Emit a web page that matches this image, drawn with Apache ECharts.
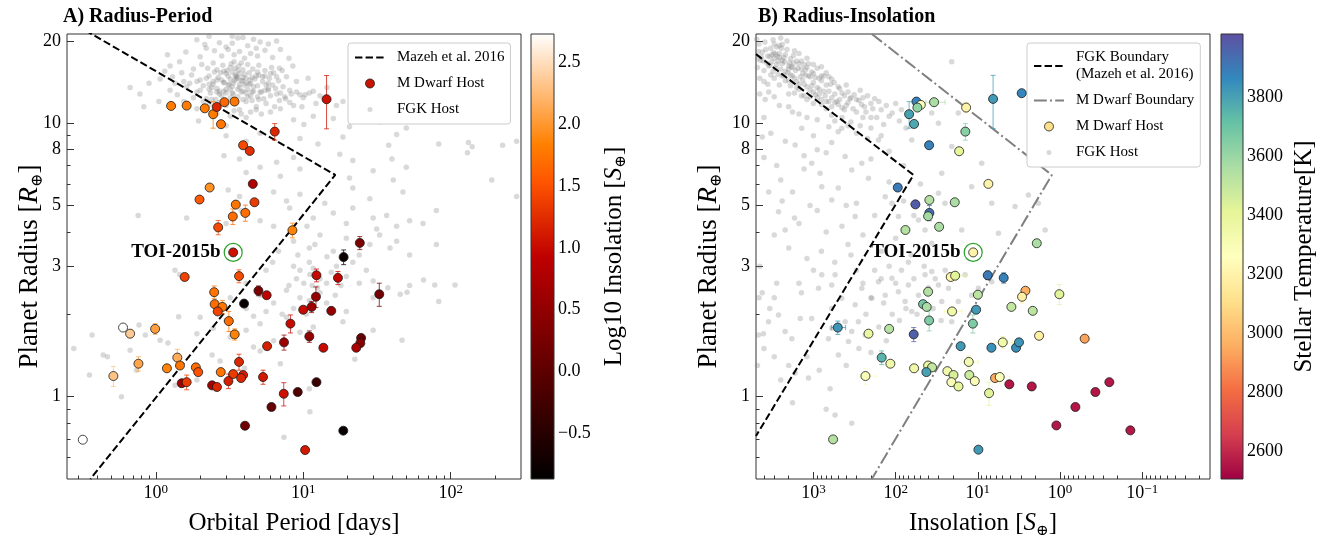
<!DOCTYPE html>
<html><head><meta charset="utf-8">
<script src="https://cdn.jsdelivr.net/npm/echarts/dist/echarts.min.js"></script>
<style>html,body{margin:0;padding:0;background:#fff}#c{width:1335px;height:542px}</style>
</head><body><div id="c"></div>
<script>
// ---------------- DATA ----------------
// Panel A: M dwarf host planets (period [d], radius [R_earth], log10 insolation, radius error)
const mdA_period = [1.27,1.62,2.15,2.45,2.59,2.92,3.42,2.77,14.4,6.41,
 3.91,4.34,4.55,2.32,1.98,3.49,4.67,3.33,4.05,2.65,
 8.45,3.35,24.2,18.8,1.57,3.67,12.3,17.2,2.49,4.97,
 5.65,3.97,12.2,32.8,2.51,2.83,2.63,10.0,11.4,15.5,
 3.13,8.19,0.99,0.60,0.67,3.43,11.0,24.7,24.4,22.9,
 5.69,7.41,13.7,1.40,0.763,1.19,1.46,1.87,1.94,2.76,
 0.516,3.67,3.35,3.91,3.79,3.11,5.34,1.50,1.62,2.41,
 2.60,12.3,7.38,9.18,6.09,4.03,18.7,10.3,0.32];
const mdA_radius = [11.57,11.6,11.34,10.79,11.47,11.94,12.0,9.92,12.24,9.32,
 8.31,7.92,6.0,5.82,5.26,5.04,5.14,4.56,4.70,4.16,
 4.06,3.37,3.65,3.24,2.74,2.76,2.78,2.72,2.41,2.44,
 2.35,2.19,2.32,2.37,2.18,2.13,2.05,2.08,2.13,2.06,
 1.89,1.85,1.77,1.79,1.70,1.69,1.66,1.64,1.57,1.51,
 1.53,1.58,1.51,1.39,1.32,1.27,1.30,1.28,1.23,1.23,
 1.19,1.34,1.21,1.20,1.17,1.14,1.18,1.12,1.13,1.10,
 1.085,1.13,1.025,1.04,0.917,0.783,0.751,0.638,0.696];
const mdA_logInsol = [1.8,1.8,1.8,1.8,1.2,1.65,1.75,1.75,1.05,1.2,
 1.45,1.25,0.8,1.95,1.55,1.75,1.35,1.7,1.7,1.45,
 1.85,1.06,0.3,-0.75,1.4,1.45,1.0,0.95,1.75,0.3,
 0.95,-0.8,0.55,0.2,1.7,1.75,1.4,1.0,0.6,0.5,
 1.7,1.0,2.05,2.73,2.35,1.85,0.5,0.1,0.45,0.75,
 1.15,0.6,1.0,2.15,2.1,1.85,1.75,1.7,1.5,1.75,
 2.3,1.2,1.35,1.15,1.2,1.15,1.1,0.65,1.35,0.7,
 1.2,-0.3,1.05,-0.1,0.1,0.2,-0.8,1.1,2.73];
const mdA_radErr = [0,0,0,1.2,0,0,0,0,2.7,0.65,
 0,0,0,0,0,0,0,0.3,0.32,0.25,
 0.25,0.1,0.2,0.2,0,0.15,0.15,0.15,0.13,0.1,
 0,0,0.2,0.23,0,0.12,0,0,0.1,0,
 0.16,0.14,0.08,0,0.06,0.08,0.08,0,0,0,
 0,0.1,0,0.1,0.08,0,0,0,0,0,
 0.1,0.09,0,0,0,0.07,0.07,0,0.07,0,
 0,0,0.1,0,0,0,0,0,0];

// Panel B: M dwarf host planets (insolation [S_earth], radius, Teff [K], errors)
const mdB_insol = [55.9,49.5,54.4,68.6,59.7,34.1,13.9,6.53,2.93,14.2,
 39.2,16.9,7.45,94.3,38.9,57.5,19.1,38.9,40.3,76.1,
 29.6,11.4,1.92,21.4,18.9,7.59,4.85,40.3,10.0,2.64,
 2.90,1.02,46.4,41.9,20.6,10.5,3.91,2.15,39.2,11.5,
 506,214,120,60.3,1.80,0.502,16.2,6.84,4.98,3.43,
 3.16,148,116,59.7,40.3,36.1,42.3,12.9,233,23.5,
 19.8,12.7,10.9,21.0,17.2,6.18,5.42,4.14,2.21,7.31,
 0.372,0.2515,0.651,1.11,0.1396,577,9.85];
const mdB_radius = [12.0,11.67,11.41,10.79,9.94,11.94,11.41,12.27,12.88,9.32,
 8.31,7.90,6.0,5.82,5.24,5.05,5.14,4.70,4.57,4.07,
 4.18,3.37,3.64,2.74,2.77,2.78,2.72,2.42,2.36,2.44,
 2.32,2.37,2.18,2.13,2.05,2.08,2.13,2.06,1.90,1.85,
 1.79,1.70,1.77,1.69,1.67,1.63,1.53,1.51,1.58,1.51,
 1.58,1.39,1.32,1.27,1.30,1.28,1.23,1.34,1.19,1.24,
 1.20,1.20,1.14,1.13,1.09,1.17,1.18,1.11,1.09,1.03,
 1.04,1.13,0.917,0.785,0.753,0.698,0.64];
const mdB_teff = [3880,3250,3620,3800,3780,3560,3200,3820,3870,3640,
 3880,3400,3200,3900,3540,3980,3560,3930,3580,3540,
 3560,3200,3560,3200,3420,3900,3880,3540,3520,2960,
 3180,3420,3680,3560,3350,3820,3500,3520,3660,3660,
 3830,3380,3530,3970,3180,2930,3820,3840,3340,3850,
 3830,3750,3350,3350,3380,3500,3800,3330,3300,3330,
 3450,3480,3300,3300,3400,2950,3280,2560,2560,3420,
 2560,2560,2560,2560,2560,3540,3820];
const mdB_radErr = [0,0,0,1.2,0,0,0.5,2.7,0,0.65,
 0,0,0,0,0,0,0,0.3,0,0,
 0,0.1,0.1,0,0.1,0.1,0.12,0,0,0,
 0.12,0.2,0,0,0,0,0,0,0.16,0.14,
 0.1,0,0,0.1,0,0,0,0,0.08,0,
 0,0.08,0,0,0,0,0,0.07,0.08,0,
 0,0,0,0,0,0,0.06,0,0,0.1,
 0,0,0,0,0,0,0];
const mdB_insolErr = [0,0,0,0,0,9,0,0,0,0,
 0,0,0,0,0,0,0,0,0,0,
 0,0,0,0,5,0,0,0,0,0,
 0,0,0,0,5,0,0,0,0,0,
 100,0,0,0,0,0,0,0,1.2,0,
 0,0,0,0,0,0,0,3,60,0,
 0,0,0,0,0,0,1.3,0,0,0,
 0,0,0,0,0,0,0];

// TOI-2015b
const toiA = [3.35, 3.37];
const toiB = [11.4, 3.37];

// Boundaries
const mazehA = [[0.25,23.9],[16.5,6.47],[0.36,0.5]];
const fgkBoundB = [[5000,17.9],[60.7,6.47],[5000,0.718]];
const mdBoundB = [[195,21.2],[1.26,6.47],[195,0.5]];

// FGK hosts, panel A (period, radius)
const fgkA = [
 [1.9,20.2],[2.3,20.8],[3.3,19.6],[3.6,20.5],[4.2,19.2],[5.1,19.8],[6.6,20.0],[3.0,19.0],
 [1.6,18.2],[2.0,17.5],[2.5,18.4],[2.8,17.6],[3.1,18.6],[3.4,17.8],[3.7,18.3],[4.0,17.3],[4.4,18.0],[4.9,17.6],[5.5,18.5],[6.2,17.4],[2.2,18.8],
 [1.25,16.2],[1.45,16.8],[1.8,15.8],[2.05,16.4],[2.25,15.9],[2.45,16.6],[2.6,15.7],[2.85,16.3],[3.05,15.6],[3.25,16.5],[3.45,15.9],[3.65,16.2],[3.9,15.7],[4.2,16.4],[4.55,15.8],[5.0,16.3],[5.5,15.6],[6.1,16.0],[6.9,15.9],[8.5,16.2],
 [1.07,14.5],[1.3,14.8],[1.55,14.2],[1.75,15.0],[2.0,14.4],[2.3,14.9],[2.45,14.2],[2.65,14.7],[2.9,14.1],[3.0,15.2],[3.2,14.5],[3.35,14.0],[3.55,14.8],[3.8,14.3],[4.0,15.1],[4.35,14.4],[4.8,14.9],[5.3,14.2],[5.9,14.6],[6.8,14.3],[7.7,14.8],[9.0,14.2],[2.75,15.3],[3.45,15.0],
 [0.67,13.5],[0.78,12.8],[1.25,13.2],[1.4,12.7],[1.62,13.6],[1.9,13.0],[2.1,13.7],[2.35,12.9],[2.6,13.4],[2.8,12.6],[3.0,13.3],[3.35,12.8],[3.7,13.5],[4.1,12.9],[4.6,13.6],[5.1,13.0],[5.8,13.4],[6.6,12.8],[8.1,13.2],[9.5,12.7],[10.3,12.7],[11.7,13.1],[13,12.6],[3.15,13.9],[2.45,13.9],
 [0.83,11.5],[1.9,11.3],[3.0,11.6],[3.7,11.2],[4.1,12.0],[4.8,11.5],[5.6,11.8],[7.0,11.3],[8.1,11.9],[8.6,11.6],[16.8,11.6],[18.6,12.0],[21,11.2],[2.7,11.9],[4.4,11.0],
 [1.95,10.2],[3.0,9.8],[4.1,10.5],[8.6,10.3],[10.1,9.9],[11.7,10.6],[16,10.4],[20.6,9.7],[33,10.1],[50,9.6],[60,10.2],
 [3.3,15.4],[3.5,14.5],[3.6,15.6],[3.9,14.7],[3.2,16.0],[3.4,16.8],[3.8,16.6],[3.1,14.9],[2.9,15.5],[4.1,14.0],[3.7,13.9],[3.3,13.6],[2.6,14.4],[4.3,15.3],
 [2.3,13.9],[2.6,13.0],[2.9,14.1],[3.2,13.3],[3.5,14.9],[3.8,13.0],[4.1,14.6],[4.6,13.1],[5.2,13.0],[2.1,12.0],[2.4,12.2],[2.7,13.1],[3.0,12.9],[3.3,12.9],[3.6,14.6],[3.9,14.3],[4.3,13.9],[4.7,14.5],[5.3,14.8],[5.8,13.2],
 [2.2,14.6],[2.5,15.4],[2.8,14.4],[3.1,13.8],[3.4,14.3],[3.7,15.2],[4.0,13.8],[4.4,14.0],[4.9,13.7],[5.5,14.9],[6.3,15.3],[7.2,15.6],[2.0,13.2],[2.4,13.5],[2.9,13.1],[3.2,12.4],[3.6,12.5],[4.2,13.3],[4.9,12.5],[5.4,12.3],
 [6.2,13.8],[7.3,13.6],[1.7,14.0],[1.5,15.3],[1.35,14.0],[1.15,15.5],[2.2,12.3],[2.55,12.2],[3.9,12.2],[4.5,12.1],[6.9,12.1],[7.6,12.3],[1.8,12.4],[1.55,12.0],[2.15,19.4],[2.7,19.7],[3.9,20.6],[4.6,20.3],[5.8,19.5],[4.8,18.8],
 [3.3,20.8],[5.0,15.0],[6.0,15.2],[5.6,13.8],[2.3,11.7],[3.4,11.1],[6.4,11.5],[9.8,11.5],[12.2,11.8],[14.5,13.5],[10.8,14.6],[8.0,17.3],[7.0,18.6],[1.05,12.0],[0.9,14.0],[1.2,17.8],
 [4.5,13.0],[5.0,12.2],[5.5,13.2],[6.0,12.6],[6.5,13.4],[7.0,12.9],[7.5,12.5],[8.3,12.8],[9.0,13.0],[10.0,12.4],[11.0,12.9],[4.8,11.2],[5.2,10.8],[6.0,11.0],[3.8,10.8],[3.2,10.6],[2.6,10.9],[4.4,12.6],[3.4,12.2],[2.9,12.0],
 [5.8,14.0],[6.6,14.8],[4.5,14.7],[4.9,15.4],[3.6,13.3],[3.9,13.1],[4.2,12.5],[2.3,13.3],[1.9,14.2],[2.7,12.8],
 [3.0,9.0],[4.1,8.6],[5.1,9.2],[9.5,8.8],[12.6,8.4],[18.6,8.9],[38,8.3],[43,9.1],[83,8.4],[132,8.5],[140,8.2],[225,8.3],[280,8.6],[2.9,7.6],[3.7,7.4],[4.35,7.8],[6.6,7.2],[8.6,7.5],[17.7,7.7],[21.7,7.3],[40,7.4],[130,7.8],[4.1,6.6],[5.1,6.9],[7.0,6.4],[9.5,6.8],[20.6,6.3],[29.8,6.7],[40.8,6.2],[190,6.2],[50,6.9],
 [3.1,5.7],[3.7,5.4],[4.6,5.9],[6.3,5.6],[7.7,5.2],[9.5,5.5],[21.7,5.8],[28.3,5.3],[47.5,5.6],[280,5.4],[0.76,4.6],[1.62,4.5],[3.0,4.3],[3.8,4.8],[5.1,4.4],[6.3,4.2],[8.1,4.9],[11.7,4.5],[16,4.7],[19.6,4.3],[21.7,4.9],[29.8,4.5],[31.5,4.1],[36.8,4.6],[43,4.2],[52.7,4.4],[65,4.3],[80,4.8],[14,5.1],[10.6,4.2],
 [8.6,3.7],[11,3.5],[13,3.9],[16,3.4],[19.6,3.8],[24,3.3],[28.3,3.6],[33,3.9],[38.8,3.5],[52.7,3.3],[80,3.6],[9.2,3.3],[14.5,3.25],[12,3.6],[6.8,3.4],[43,3.7],
 [1.35,2.9],[1.45,2.8],[4.1,2.6],[5.6,2.9],[8.6,3.0],[9.0,2.7],[9.5,2.9],[10.1,2.6],[11,3.1],[11.1,2.8],[11.5,2.55],[11.7,2.95],[13,2.7],[14.4,2.6],[16.8,3.0],[19.6,2.75],[21.7,3.1],[24,2.6],[26.8,2.9],[29.8,2.65],[37.5,2.5],[52.7,2.55],[65.5,2.67],[78,2.56],[107,2.56],[8.0,2.55],[6.2,3.1],[12.5,2.5],[15.5,2.85],[18,2.55],
 [3.2,2.3],[4.1,2.1],[5.1,2.35],[6.3,2.2],[7.7,2.45],[8.6,2.1],[9.5,2.3],[11,2.25],[11.7,2.1],[13,2.4],[14.4,2.2],[19.6,2.05],[29.8,2.3],[83,2.23],[45.5,2.37],[50.6,2.41],[7.2,2.0],[10.5,2.0],[16.5,2.35],[5.6,2.05],
 [0.77,1.83],[0.85,1.68],[1.07,1.61],[1.21,1.57],[1.43,1.96],[2.0,1.95],[2.45,1.78],[3.0,1.9],[4.1,1.75],[5.1,1.85],[7.7,1.95],[9.5,1.72],[11.7,1.8],[18.6,1.88],[29.8,1.75],[1.9,1.7],[4.6,1.97],
 [0.37,1.68],[0.278,1.5],[3.2,1.65],[4.6,1.52],[6.3,1.6],[46.8,1.61],
 [0.44,1.42],[0.47,1.40],[0.67,1.48],[2.41,1.42],[2.73,1.35],[5.1,1.47],[7.0,1.32],[22.4,1.37],
 [0.355,1.2],[0.74,1.25],[1.9,1.15],[3.3,1.22],[4.0,1.27],
 [0.585,1.0],[11,1.07],[1.35,1.1],
 [11.1,0.88],[7.4,0.71]
];

// FGK hosts, panel B (insolation, radius)
const fgkB = [
 [4600,19.5],[4200,18.2],[3900,19.8],[3600,17.6],[3300,18.8],[3000,17.3],[2800,19.0],[2600,18.0],[2300,17.4],[2100,18.6],[1900,17.2],[4400,17.0],[3700,16.6],[2500,20.5],[3100,20.2],
 [4800,16.0],[4000,15.6],[3500,16.2],[3100,15.5],[2800,16.4],[2500,15.8],[2250,16.8],[2050,15.3],[1850,16.1],[1650,15.6],[1500,16.5],[1350,15.2],[1200,16.0],[1050,15.4],[2700,15.1],[3300,15.0],[1900,15.0],[1600,16.9],[2400,16.5],
 [4000,14.2],[3000,14.6],[2600,13.8],[2200,14.3],[1900,13.7],[1700,14.6],[1500,13.9],[1350,14.4],[1200,13.6],[1100,14.8],[1000,14.1],[900,13.5],[800,14.3],[700,13.8],[600,14.5],[1800,14.9],[1250,15.0],[950,14.7],[750,14.9],[2400,14.9],
 [3500,13.0],[2000,12.8],[1500,13.3],[1300,12.6],[1100,13.2],[950,12.7],[850,13.3],[720,12.6],[650,13.1],[550,12.8],[480,13.4],[420,12.6],[380,13.0],[320,12.7],[1700,12.9],[270,13.2],
 [2600,11.6],[1000,11.8],[800,12.2],[600,11.5],[520,12.0],[450,11.4],[380,11.9],[330,11.3],[280,12.1],[240,11.5],[200,11.8],[180,12.3],[150,11.2],[700,11.3],
 [900,10.3],[600,10.7],[350,10.1],[270,9.8],[200,10.5],[140,9.9],[120,10.6],[90,10.2],[75,9.6],[4000,10.5],[1500,10.8],
 [2900,17.9],[2400,17.0],[2000,16.2],[1750,16.6],[3200,16.8],[2700,16.9],[2200,15.5],[1400,15.8],[1150,14.9],[3400,17.5],[2600,19.2],[1600,14.2],[2000,15.8],[1300,16.4],
 [4300,17.5],[3800,18.6],[3400,16.3],[3050,18.1],[2750,17.6],[2450,18.8],[2200,17.8],[1950,16.6],[1750,17.7],[1550,15.9],[1400,16.9],[1250,15.7],[1150,16.5],[1000,15.2],[900,15.9],[800,14.9],[700,15.3],[620,13.9],[560,14.1],[500,13.6],
 [450,12.9],[400,13.8],[360,12.3],[300,12.2],[260,11.7],[220,12.6],[4500,14.6],[3600,13.9],[2900,15.9],[2300,15.0],[2000,14.3],[1600,13.5],[1300,13.9],[1100,12.5],[900,12.4],[750,13.1],[600,12.4],[500,11.7],[420,11.2],[1800,16.0],
 [2600,17.4],[3200,17.8],[4100,16.9],[4700,18.3],[4900,20.3],[1450,14.8],[1050,13.7],[850,14.6],[650,14.8],[3000,19.5],[2400,19.4],[2100,20.0],[1700,18.4],[1500,18.0],[1200,17.3],[1000,16.4],[800,16.1],[4800,17.2],
 [800,11.7],[700,12.0],[550,11.9],[480,12.2],[400,11.6],[350,12.4],[300,11.0],[250,12.4],[230,11.0],[190,11.3],[170,10.5],[160,12.0],[130,11.6],[110,10.9],[100,11.8],[85,11.2],[70,10.6],[450,10.5],[550,10.2],[380,9.8],
 [250,10.5],[200,9.6],[1200,12.2],[1400,12.6],[1000,13.0],[850,12.8],[650,12.0],[2000,11.5],[3000,12.5],[4500,12.8],[1800,11.0],[1200,10.5],[500,9.3],[300,9.2],[150,9.0],[600,8.5],[900,8.0],[1300,7.6],[2200,8.6],[3300,9.2],
 [4200,8.9],[2800,7.0],[200,7.4],[120,7.9],[80,7.0],[50,6.0],[60,4.6],[400,5.0],[700,4.0],[1100,5.0],[1700,4.5],[2400,5.2],
 [3870,12.2],[2660,4.75],[2210,4.07],[1670,8.33],[1390,9.59],[1050,7.14],[830,6.56],[792,5.86],[599,5.24],[452,9.59],[412,7.55],[342,6.75],[311,4.56],[258,7.14],[214,6.29],[162,8.69],[134,5.39],[111,5.1],[92.5,4.56],[63.7,8.69],[52.8,4.43],[43.9,4.07],[36.4,3.64],[30.2,5.55],[25.1,5.1],[20.8,16.8],[15.7,4.07],[11.9,5.86],[8.98,7.14],[6.78,5.1],[5.62,3.96],[3.53,4.96],[2.43,5.47],[1.84,5.1],[1.52,4.07],[20.8,8.22],[27.5,6.56],[36.4,10.9],[30.2,10.0],[17.3,10.9],
 [2500,6.2],[1800,5.6],[1300,6.8],[900,4.8],[700,7.8],[500,5.8],[450,4.2],[380,3.6],[300,5.1],[250,3.9],[180,4.6],[150,3.4],[120,6.1],[100,3.8],[80,5.2],[65,3.3],[3000,3.9],[2000,3.5],[1200,3.2],[800,3.4],[550,3.1],[350,3.3],[4000,7.5],[3500,5.6],[4500,3.0],[1500,4.3],[1000,9.0],[650,9.7],[220,8.8],[1000,2.9],[600,2.1],[1500,2.6],[3000,2.3],[4200,2.4],
 [4670,1.68],[4060,1.70],[3520,1.88],[2660,1.99],[2210,1.73],[1830,1.63],[1450,1.93],[1050,1.93],[869,2.49],[792,2.79],[657,1.63],[599,1.78],[599,2.56],[546,2.79],[497,1.42],[452,2.29],[412,1.88],[375,1.59],[342,1.73],[311,2.17],[284,1.88],[258,2.49],[235,1.68],[195,2.29],[162,2.63],[134,2.35],[111,2.71],[92.5,2.42],[76.8,2.23],[70,2.56],[63.7,2.05],[52.8,2.35],[43.9,2.79],[36.4,2.87],[30.2,2.56],[27.5,2.23],[22.8,2.49],[20.8,1.88],[17.3,2.23],[14.3,2.79],[11.9,2.35],[9.86,2.49],[6.78,2.63],[546,0.857],[342,0.799],[1150,1.17],[1670,1.22],[627,1.07],
 [180,2.9],[150,2.7],[120,3.0],[100,2.6],[85,2.9],[70,3.1],[60,2.7],[45,3.0],[40,2.5],[33,2.7],[25,2.9],[140,2.2],[110,2.0],[90,1.9],[75,2.1],[55,2.0],[48,2.2],[35,2.1],[28,1.9],[200,2.3],[250,2.6],[300,2.9],[230,2.0],[160,1.8],[130,1.6],[280,1.5],[400,1.3],[200,1.45],
 [4800,1.3],[4000,1.5],[3000,1.4],[2500,1.15],[1800,0.95],[700,0.9],[2000,1.3],[1200,1.4],[850,1.25],[3400,2.1],[4600,2.3],[2800,2.6],[1400,2.4]
];

// Axis ranges and ticks
const periodRange = [0.25, 300];
const insolRange = [0.015, 5000];
const radiusRange = [0.5, 21.2];
const logInsolRange = [-0.87, 2.73];
const teffRange = [2505, 4015];
const radiusTicksMajor = [1,3,5,8,10,20];
const radiusTicksMinor = [0.6,0.7,0.8,0.9,2,4,6,7,9];
const periodTicksMajor = [1,10,100];
const periodTicksMinor = [0.3,0.4,0.5,0.6,0.7,0.8,0.9,2,3,4,5,6,7,8,9,20,30,40,50,60,70,80,90,200];
const insolTicksMajor = [0.1,1,10,100,1000];
const insolTicksMinor = [0.02,0.03,0.04,0.05,0.06,0.07,0.08,0.09,0.2,0.3,0.4,0.5,0.6,0.7,0.8,0.9,2,3,4,5,6,7,8,9,20,30,40,50,60,70,80,90,200,300,400,500,600,700,800,900,2000,3000,4000];
const logInsolTicks = [-0.5,0,0.5,1,1.5,2,2.5];
const teffTicks = [2600,2800,3000,3200,3400,3600,3800];

// colormaps
const gistHeat = ['#000000','#200000','#400000','#600000','#800000','#9f0000','#bf0000','#df2a00','#ff5500','#ff8000','#ffaa55','#ffd4aa','#ffffff'];
const spectral = ['#9e0142','#d53e4f','#f46d43','#fdae61','#fee08b','#ffffbf','#e6f598','#abdda4','#66c2a5','#3288bd','#5e4fa2'];

// ---------------- CHART ----------------
const FONT = "'Liberation Serif','Times New Roman','DejaVu Serif',serif";
const chart = echarts.init(document.getElementById('c'), null, {renderer:'canvas'});

const GA = {left:67, top:34, width:454, height:445};
const CA = {left:531, top:34, width:23, height:445};
const GB = {left:756, top:34, width:454, height:445};
const CB = {left:1221, top:34, width:22, height:445};

function powLabel(v){ const e = Math.round(Math.log10(v)); return '10{sup|' + (e < 0 ? '\u2212' + (-e) : e) + '}'; }
const axCol = '#333';
function mkName(fs){
  return {fontFamily:FONT, fontSize:fs, color:'#000', lineHeight:fs+5, rich:{
    i:{fontStyle:'italic', fontSize:fs, fontFamily:FONT, color:'#000', lineHeight:fs+5},
    s:{fontSize:Math.round(fs*0.6), fontFamily:FONT, color:'#000', lineHeight:Math.round(fs*0.6), verticalAlign:'bottom'}
  }};
}
const nameStyle = mkName(25);
function mainX(gi, range, inverse, major, name, gap){
  return {type:'log', gridIndex:gi, min:range[0], max:range[1], inverse:inverse, position:'bottom',
    axisLine:{show:false, onZero:false},
    axisTick:{show:true, inside:true, length:7, customValues:major, lineStyle:{color:axCol, width:1}},
    axisLabel:{show:true, customValues:major, margin:4, formatter:powLabel, color:'#000', fontFamily:FONT, fontSize:18, lineHeight:21,
      rich:{sup:{fontSize:13, lineHeight:13, verticalAlign:'top', fontFamily:FONT, color:'#000'}}},
    splitLine:{show:false}, minorTick:{show:false},
    name:name, nameLocation:'middle', nameGap:gap, nameTextStyle:nameStyle};
}
function minorX(gi, range, inverse, minor){
  return {type:'log', gridIndex:gi, min:range[0], max:range[1], inverse:inverse, position:'bottom',
    axisLine:{show:false, onZero:false}, axisLabel:{show:false}, splitLine:{show:false},
    axisTick:{show:true, inside:true, length:3.5, customValues:minor, lineStyle:{color:axCol, width:1}}};
}
function mainY(gi, gap){
  const ns = mkName(27);
  ns.padding = [0, 20, 0, 0];
  return {type:'log', gridIndex:gi, min:radiusRange[0], max:radiusRange[1], position:'left',
    axisLine:{show:false, onZero:false},
    axisTick:{show:true, inside:true, length:7, customValues:radiusTicksMajor, lineStyle:{color:axCol, width:1}},
    axisLabel:{show:true, customValues:radiusTicksMajor, margin:6, formatter:v=>String(v), color:'#000', fontFamily:FONT, fontSize:18},
    splitLine:{show:false},
    name:'Planet Radius [{i|R}{s|\u2295}]', nameLocation:'middle', nameGap:gap, nameMoveOverlap:false, nameTextStyle:ns};
}
function minorY(gi){
  return {type:'log', gridIndex:gi, min:radiusRange[0], max:radiusRange[1], position:'left',
    axisLine:{show:false, onZero:false}, axisLabel:{show:false}, splitLine:{show:false},
    axisTick:{show:true, inside:true, length:3.5, customValues:radiusTicksMinor, lineStyle:{color:axCol, width:1}}};
}
function cbarX(gi){ return {type:'value', gridIndex:gi, min:0, max:1, show:false}; }
function cbarY(gi, range, ticks, fmt, name, gap){
  return {type:'value', gridIndex:gi, min:range[0], max:range[1], position:'right',
    axisLine:{show:false}, splitLine:{show:false},
    axisTick:{show:true, inside:false, length:3.5, customValues:ticks, lineStyle:{color:axCol, width:1}},
    axisLabel:{show:true, customValues:ticks, margin:4, formatter:fmt, color:'#000', fontFamily:FONT, fontSize:18},
    name:name, nameLocation:'middle', nameGap:gap, nameTextStyle:nameStyle};
}

function renderErr(params, api){
  const x = api.value(0), y = api.value(1), ye = api.value(3), xe = api.value(4);
  const color = api.visual('color');
  const st = {stroke:color, lineWidth:1, opacity:0.75, fill:null};
  const cap = 2.5, ch = [];
  if (ye > 0) {
    const a = api.coord([x, y - ye]), b = api.coord([x, y + ye]);
    ch.push({type:'line', shape:{x1:a[0], y1:a[1], x2:b[0], y2:b[1]}, style:st});
    ch.push({type:'line', shape:{x1:a[0]-cap, y1:a[1], x2:a[0]+cap, y2:a[1]}, style:st});
    ch.push({type:'line', shape:{x1:b[0]-cap, y1:b[1], x2:b[0]+cap, y2:b[1]}, style:st});
  }
  if (xe > 0) {
    const a = api.coord([x - xe, y]), b = api.coord([x + xe, y]);
    ch.push({type:'line', shape:{x1:a[0], y1:a[1], x2:b[0], y2:b[1]}, style:st});
    ch.push({type:'line', shape:{x1:a[0], y1:a[1]-cap, x2:a[0], y2:a[1]+cap}, style:st});
    ch.push({type:'line', shape:{x1:b[0], y1:b[1]-cap, x2:b[0], y2:b[1]+cap}, style:st});
  }
  return {type:'group', children:ch};
}
function renderCbar(colors){
  const stops = colors.map((c, i) => ({offset:i/(colors.length-1), color:c}));
  return function(params, api){
    const p0 = api.coord([0, api.value(1)]);
    const p1 = api.coord([1, api.value(2)]);
    return {type:'rect', shape:{x:p0[0], y:p1[1], width:p1[0]-p0[0], height:p0[1]-p1[1]},
      style:{fill:new echarts.graphic.LinearGradient(0, 1, 0, 0, stops), stroke:'#333', lineWidth:1}};
  };
}

const errA = mdA_period.map((p, i) => [p, mdA_radius[i], mdA_logInsol[i], mdA_radErr[i], 0]);
const ptsA = mdA_period.map((p, i) => [p, mdA_radius[i], mdA_logInsol[i]]);
const errB = mdB_insol.map((s, i) => [s, mdB_radius[i], mdB_teff[i], mdB_radErr[i], mdB_insolErr[i]]);
const ptsB = mdB_insol.map((s, i) => [s, mdB_radius[i], mdB_teff[i]]);

const fgkStyle = {color:'rgba(128,128,128,0.3)', opacity:1};
const ptBorder = {borderColor:'#1a1a1a', borderWidth:0.8, opacity:1};
const toiLabel = {show:true, position:'left', distance:3, formatter:'TOI-2015b', fontFamily:FONT, fontSize:19, fontWeight:'bold', color:'#000', opacity:1};
const FGK_ICON = 'path://M0,0L0.01,0M9.99,10L10,10M5,2.2A2.8,2.8,0,1,1,4.99,2.2Z';

const legendBase = {orient:'vertical', itemWidth:30, itemHeight:9, itemGap:9, selectedMode:false,
  backgroundColor:'#fff', borderColor:'#cccccc', borderWidth:1, borderRadius:3, padding:[6,6,6,6],
  textStyle:{fontFamily:FONT, fontSize:15, color:'#000', lineHeight:17, padding:[0,0,0,7]}};
const noSym = {opacity:0};

const option = {
  animation:false,
  backgroundColor:'#fff',
  textStyle:{fontFamily:FONT},
  title:[
    {text:'A) Radius-Period', left:58, top:2, textStyle:{fontFamily:FONT, fontSize:20, fontWeight:'bold', color:'#000'}},
    {text:'B) Radius-Insolation', left:753, top:2, textStyle:{fontFamily:FONT, fontSize:20, fontWeight:'bold', color:'#000'}}
  ],
  grid:[
    Object.assign({show:true, borderColor:axCol, borderWidth:1, containLabel:false, outerBoundsMode:'none'}, GA),
    Object.assign({show:false, containLabel:false, outerBoundsMode:'none'}, CA),
    Object.assign({show:true, borderColor:axCol, borderWidth:1, containLabel:false, outerBoundsMode:'none'}, GB),
    Object.assign({show:false, containLabel:false, outerBoundsMode:'none'}, CB)
  ],
  xAxis:[
    mainX(0, periodRange, false, periodTicksMajor, 'Orbital Period [days]', 27),
    minorX(0, periodRange, false, periodTicksMinor),
    cbarX(1),
    mainX(2, insolRange, true, insolTicksMajor, 'Insolation [{i|S}{s|\u2295}]', 26),
    minorX(2, insolRange, true, insolTicksMinor),
    cbarX(3)
  ],
  yAxis:[
    mainY(0, 21),
    minorY(0),
    cbarY(1, logInsolRange, logInsolTicks, v => (v < 0 ? '\u2212' : '') + Math.abs(v).toFixed(1), 'Log10 Insolation [{i|S}{s|\u2295}]', 45),
    mainY(2, 31),
    minorY(2),
    cbarY(3, teffRange, teffTicks, v => String(v), 'Stellar Temperature[K]', 46)
  ],
  visualMap:[
    {type:'continuous', show:false, seriesIndex:[2,3], dimension:2, min:logInsolRange[0], max:logInsolRange[1], inRange:{color:gistHeat}},
    {type:'continuous', show:false, seriesIndex:[9,10], dimension:2, min:teffRange[0], max:teffRange[1], inRange:{color:spectral}}
  ],
  legend:[
    Object.assign({}, legendBase, {left:348, top:43, data:[
      {name:'Mazeh et al. 2016', itemStyle:noSym},
      {name:'M Dwarf Host', icon:'circle', itemStyle:{color:'#c81400', borderColor:'#1a1a1a', borderWidth:0.8}},
      {name:'FGK Host', icon:FGK_ICON, itemStyle:{color:'rgba(128,128,128,0.3)', borderWidth:0}}
    ]}),
    Object.assign({}, legendBase, {left:1027, top:43, data:[
      {name:'FGK Boundary\n(Mazeh et al. 2016)', itemStyle:noSym},
      {name:'M Dwarf Boundary', itemStyle:noSym},
      {name:'M Dwarf Host', icon:'circle', itemStyle:{color:'#fee08b', borderColor:'#1a1a1a', borderWidth:0.8}},
      {name:'FGK Host', icon:FGK_ICON, itemStyle:{color:'rgba(128,128,128,0.3)', borderWidth:0}}
    ]})
  ],
  series:[
    {name:'FGK Host', type:'scatter', xAxisIndex:0, yAxisIndex:0, data:fgkA, symbolSize:5.5, itemStyle:fgkStyle, silent:true, z:1},
    {name:'Mazeh et al. 2016', type:'line', xAxisIndex:0, yAxisIndex:0, data:mazehA, symbol:'none', clip:true,
      lineStyle:{color:'#000', width:2, type:[7.4,3.2]}, itemStyle:{color:'#000'}, z:2, silent:true},
    {name:'errA', type:'custom', xAxisIndex:0, yAxisIndex:0, data:errA, renderItem:renderErr, clip:true, z:3, silent:true},
    {name:'M Dwarf Host', type:'scatter', xAxisIndex:0, yAxisIndex:0, data:ptsA, symbolSize:9, itemStyle:ptBorder, z:4},
    {name:'TOI-2015b A', type:'scatter', xAxisIndex:0, yAxisIndex:0, data:[toiA], symbolSize:18,
      itemStyle:{color:'rgba(0,0,0,0)', borderColor:'#2ca02c', borderWidth:1.2, opacity:1}, label:toiLabel, z:5},
    {name:'cbarA', type:'custom', xAxisIndex:2, yAxisIndex:2, data:[[0, logInsolRange[0], logInsolRange[1]]], renderItem:renderCbar(gistHeat), silent:true},
    {name:'FGK Host', type:'scatter', xAxisIndex:3, yAxisIndex:3, data:fgkB, symbolSize:5.5, itemStyle:fgkStyle, silent:true, z:1},
    {name:'FGK Boundary\n(Mazeh et al. 2016)', type:'line', xAxisIndex:3, yAxisIndex:3, data:fgkBoundB, symbol:'none', clip:true,
      lineStyle:{color:'#000', width:2, type:[7.4,3.2]}, itemStyle:{color:'#000'}, z:2, silent:true},
    {name:'M Dwarf Boundary', type:'line', xAxisIndex:3, yAxisIndex:3, data:mdBoundB, symbol:'none', clip:true,
      lineStyle:{color:'#808080', width:2, type:[12.8,3.2,2,3.2]}, itemStyle:{color:'#808080'}, z:2, silent:true},
    {name:'errB', type:'custom', xAxisIndex:3, yAxisIndex:3, data:errB, renderItem:renderErr, clip:true, z:3, silent:true},
    {name:'M Dwarf Host', type:'scatter', xAxisIndex:3, yAxisIndex:3, data:ptsB, symbolSize:9, itemStyle:ptBorder, z:4},
    {name:'TOI-2015b B', type:'scatter', xAxisIndex:3, yAxisIndex:3, data:[toiB], symbolSize:18,
      itemStyle:{color:'rgba(0,0,0,0)', borderColor:'#2ca02c', borderWidth:1.2, opacity:1}, label:toiLabel, z:5},
    {name:'cbarB', type:'custom', xAxisIndex:5, yAxisIndex:5, data:[[0, teffRange[0], teffRange[1]]], renderItem:renderCbar(spectral), silent:true}
  ]
};
chart.setOption(option);
</script></body></html>
